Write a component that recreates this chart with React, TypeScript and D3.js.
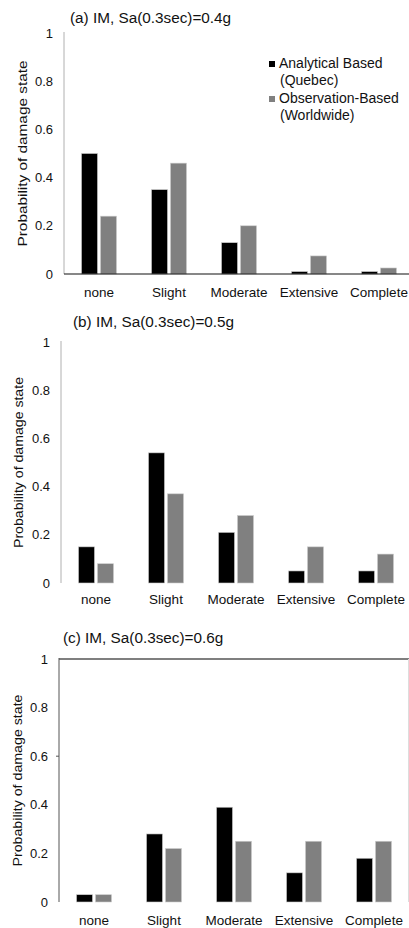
import React, { useEffect, useRef } from 'react';
import * as d3 from 'd3';

const categories = ['none', 'Slight', 'Moderate', 'Extensive', 'Complete'];
const panelTitles = ['(a) IM, Sa(0.3sec)=0.4g', '(b) IM, Sa(0.3sec)=0.5g', '(c) IM, Sa(0.3sec)=0.6g'];
const analyticalA = [0.5, 0.35, 0.13, 0.01, 0.01];
const observationA = [0.24, 0.46, 0.2, 0.075, 0.025];
const analyticalB = [0.15, 0.54, 0.21, 0.05, 0.05];
const observationB = [0.08, 0.37, 0.28, 0.15, 0.12];
const analyticalC = [0.03, 0.28, 0.39, 0.12, 0.18];
const observationC = [0.03, 0.22, 0.25, 0.25, 0.25];
const yTicks = [0, 0.2, 0.4, 0.6, 0.8, 1];
const yTickLabels = ['0', '0.2', '0.4', '0.6', '0.8', '1'];
const yAxisTitle = 'Probability of damage state';
const seriesNames = [['Analytical Based', '(Quebec)'], ['Observation-Based', '(Worldwide)']];
const seriesColors = ['#000000', '#808080'];

const FONT = '"Liberation Sans", Arial, sans-serif';

// layout of each of the three stacked panels
const panels = [
  { title: panelTitles[0], a: analyticalA, o: observationA, left: 64, y1: 33, y0: 274, titleX: 70, titleY: 23, catY: 297, ylabX: 22, ylabLen: 186, axisColor: '#b0b0b0', xLine: true, topLine: false, legend: true },
  { title: panelTitles[1], a: analyticalB, o: observationB, left: 61, y1: 342, y0: 583, titleX: 73, titleY: 327, catY: 604, ylabX: 18, ylabLen: 171, axisColor: '#b0b0b0', xLine: false, topLine: false, legend: false },
  { title: panelTitles[2], a: analyticalC, o: observationC, left: 59, y1: 659, y0: 902, titleX: 63, titleY: 643, catY: 925, ylabX: 17, ylabLen: 172, axisColor: '#555555', xLine: false, topLine: true, legend: false },
];

const App = () => {
  const svgRef = useRef(null);

  useEffect(() => {
    const svg = d3.select(svgRef.current);
    svg.selectAll('*').remove();
    svg.append('rect').attr('width', 409).attr('height', 928).attr('fill', '#fff');

    panels.forEach((p) => {
      const g = svg.append('g');
      const x = d3.scaleBand().domain(categories).range([p.left, p.left + 70 * categories.length]);
      const y = d3.scaleLinear().domain([0, 1]).range([p.y0, p.y1]);
      const barW = 16;
      const gap = 3;

      g.append('text')
        .attr('x', p.titleX)
        .attr('y', p.titleY)
        .attr('font-family', FONT)
        .attr('font-size', 15.3)
        .attr('fill', '#111')
        .text(p.title);

      if (p.topLine) {
        g.append('line')
          .attr('x1', p.left).attr('x2', 409)
          .attr('y1', y(1)).attr('y2', y(1))
          .attr('stroke', '#000').attr('stroke-width', 1.2);
        g.append('line')
          .attr('x1', 408.5).attr('x2', 408.5)
          .attr('y1', y(1)).attr('y2', y(0))
          .attr('stroke', '#dddddd');
        g.append('line')
          .attr('x1', p.left - 3).attr('x2', p.left)
          .attr('y1', y(0.6)).attr('y2', y(0.6))
          .attr('stroke', '#555');
      }

      // y axis
      g.append('line')
        .attr('x1', p.left).attr('x2', p.left)
        .attr('y1', y(1) - 1).attr('y2', y(0))
        .attr('stroke', p.axisColor).attr('stroke-width', 1);

      g.selectAll('.ytick')
        .data(yTicks)
        .enter()
        .append('text')
        .attr('x', p.left - 11)
        .attr('y', (d) => y(d))
        .attr('dy', '0.36em')
        .attr('text-anchor', 'end')
        .attr('font-family', FONT)
        .attr('font-size', 13)
        .attr('fill', '#111')
        .text((d, i) => yTickLabels[i]);

      g.append('text')
        .attr('transform', `translate(${p.ylabX},${(y(0) + y(1)) / 2}) rotate(-90)`)
        .attr('text-anchor', 'middle')
        .attr('dy', '0.35em')
        .attr('font-family', FONT)
        .attr('font-size', 13)
        .attr('textLength', p.ylabLen)
        .attr('lengthAdjust', 'spacingAndGlyphs')
        .attr('fill', '#111')
        .text(yAxisTitle);

      const groups = g.selectAll('.cat')
        .data(categories)
        .enter()
        .append('g');

      groups.append('rect')
        .attr('x', (d) => x(d) + x.bandwidth() / 2 - gap / 2 - barW)
        .attr('y', (d, i) => y(p.a[i]))
        .attr('width', barW)
        .attr('height', (d, i) => y(0) - y(p.a[i]))
        .attr('fill', seriesColors[0])
        .attr('stroke', '#cccccc')
        .attr('stroke-width', 0.6);

      groups.append('rect')
        .attr('x', (d) => x(d) + x.bandwidth() / 2 + gap / 2)
        .attr('y', (d, i) => y(p.o[i]))
        .attr('width', barW)
        .attr('height', (d, i) => y(0) - y(p.o[i]))
        .attr('fill', seriesColors[1])
        .attr('stroke', '#cccccc')
        .attr('stroke-width', 0.6);

      groups.append('text')
        .attr('x', (d) => x(d) + x.bandwidth() / 2)
        .attr('y', p.catY)
        .attr('text-anchor', 'middle')
        .attr('font-family', FONT)
        .attr('font-size', 13.5)
        .attr('fill', '#111')
        .text((d) => d);

      if (p.xLine) {
        g.append('line')
          .attr('x1', p.left).attr('x2', 409)
          .attr('y1', y(0)).attr('y2', y(0))
          .attr('stroke', '#111').attr('stroke-width', 1.2);
      }

      if (p.legend) {
        const leg = g.append('g').attr('transform', 'translate(269,0)');
        seriesNames.forEach((lines, i) => {
          const top = 68 + i * 35;
          leg.append('rect')
            .attr('x', 0).attr('y', top - 7)
            .attr('width', 6).attr('height', 6)
            .attr('fill', seriesColors[i]);
          lines.forEach((t, j) => {
            leg.append('text')
              .attr('x', j === 0 ? 10 : 11)
              .attr('y', top + j * 17)
              .attr('font-family', FONT)
              .attr('font-size', 14)
              .attr('fill', '#111')
              .text(t);
          });
        });
      }
    });

    return () => {
      svg.selectAll('*').remove();
    };
  }, []);

  return (
    <svg
      ref={svgRef}
      width={409}
      height={928}
      style={{ position: 'absolute', left: 0, top: 0 }}
    />
  );
};

export default App;
